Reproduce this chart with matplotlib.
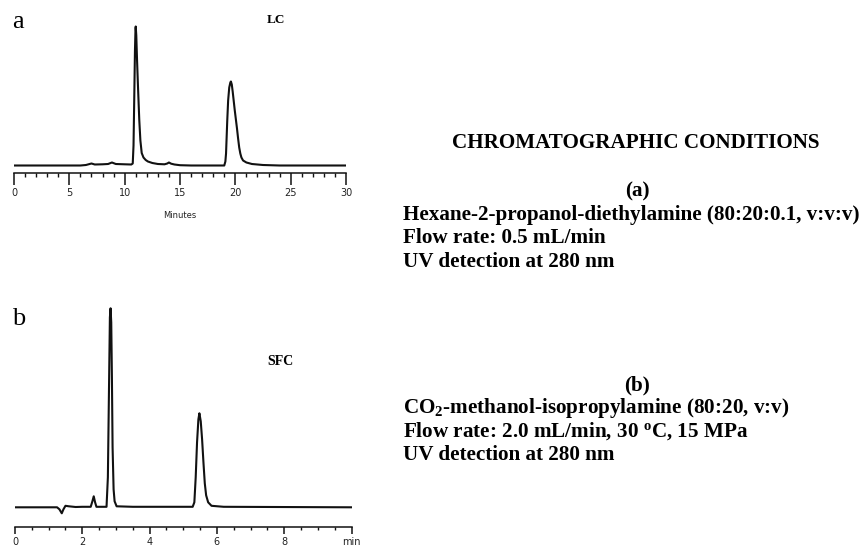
import matplotlib
matplotlib.use("Agg")
import matplotlib.pyplot as plt
from matplotlib.ticker import MultipleLocator, FixedLocator, FixedFormatter

plt.rcParams['mathtext.fontset'] = 'custom'
plt.rcParams['mathtext.rm'] = 'Liberation Serif:bold'
plt.rcParams['mathtext.bf'] = 'Liberation Serif:bold'
plt.rcParams['mathtext.it'] = 'Liberation Serif:bold'

# ---- Data ----
# LC chromatogram: time (min), detector signal (arbitrary units)
lc_time = [0, 6.0, 6.5, 7.0, 7.3, 8.0, 8.5, 8.85, 9.2, 10.0, 10.6, 10.73, 10.8, 10.87, 10.93,
           10.98, 11.0, 11.05, 11.12, 11.2, 11.32, 11.42, 11.54, 11.7, 11.9, 12.1, 12.5, 13.0,
           13.6, 13.85, 14.0, 14.2, 14.5, 15.0, 16.0, 19.0, 19.1, 19.16, 19.27, 19.35, 19.45,
           19.55, 19.6, 19.68, 19.76, 19.85, 19.95, 20.05, 20.15, 20.25, 20.35, 20.45, 20.55,
           20.7, 21.0, 21.5, 22.5, 24.0, 30.0]
lc_signal = [0, 0, 0.5, 2, 1, 1.2, 1.5, 3, 1.5, 1.2, 1.0, 2, 20, 70, 115,
             137, 139, 130, 105, 80, 45.5, 25, 12.5, 8, 5.5, 4, 2.5, 1.5,
             1.2, 2, 3, 1.8, 1, 0.3, 0, 0, 4, 12, 45, 65, 78,
             83, 84, 81, 74, 65, 55, 46, 37, 27, 18, 12, 8,
             5, 3, 1.5, 0.5, 0, 0]

# SFC chromatogram: time (min), detector signal (arbitrary units)
sfc_time = [0, 1.25, 1.32, 1.39, 1.44, 1.5, 1.6, 1.8, 2.0, 2.25, 2.3, 2.34, 2.38, 2.42,
            2.72, 2.76, 2.79, 2.82, 2.84, 2.86, 2.88, 2.90, 2.93, 2.96, 3.02, 3.5,
            5.28, 5.33, 5.37, 5.41, 5.45, 5.48, 5.52, 5.56, 5.60, 5.64, 5.68, 5.74, 5.84,
            6.2, 10.0]
sfc_signal = [0, 0, -2, -6, -2, 1.5, 1, 0.3, 0.5, 0.5, 6, 11, 5, 0.5,
              0.5, 30, 110, 190, 199, 185, 130, 60, 18, 6, 1, 0.5,
              0.5, 5, 30, 65, 88, 94, 86, 68, 45, 24, 12, 5, 1.5,
              0.5, 0]

lc_major_ticks = [0, 5, 10, 15, 20, 25, 30]
lc_tick_labels = ["0", "5", "10", "15", "20", "25", "30"]
sfc_major_ticks = [0, 2, 4, 6, 8, 10]
sfc_tick_labels = ["0", "2", "4", "6", "8", "min"]

cond_a = ["Hexane-2-propanol-diethylamine (80:20:0.1, v:v:v)",
          "Flow rate: 0.5 mL/min",
          "UV detection at 280 nm"]
cond_b = ["CO$_2$-methanol-isopropylamine (80:20, v:v)",
          "Flow rate: 2.0 mL/min, 30 $^{\\mathrm{o}}$C, 15 MPa",
          "UV detection at 280 nm"]

# ---- Figure ----
W, H = 864, 548
fig = plt.figure(figsize=(W / 100, H / 100), dpi=100)
fig.patch.set_facecolor('white')


def px_axes(left, top, right, bottom):
    return fig.add_axes([left / W, 1 - bottom / H, (right - left) / W, (bottom - top) / H])


def style_axis(ax, major_len, minor_len):
    for s in ['top', 'left', 'right']:
        ax.spines[s].set_visible(False)
    ax.spines['bottom'].set_linewidth(1.1)
    ax.spines['bottom'].set_color('#111111')
    ax.set_yticks([])
    ax.tick_params(axis='x', which='major', direction='out', length=major_len, width=1.1,
                   color='#111111', labelsize=7, labelcolor='#222222', pad=2.5)
    ax.tick_params(axis='x', which='minor', direction='out', length=minor_len, width=1.0,
                   color='#111111')
    ax.set_facecolor('none')


serif = ['Liberation Serif', 'DejaVu Serif']

# Top: LC
ax1 = px_axes(14, 20, 346, 173)
ax1.plot(lc_time, lc_signal, color='#111111', lw=1.5, solid_joinstyle='round')
ax1.set_xlim(0, 30)
ax1.set_ylim(-7.5, 145.5)
ax1.xaxis.set_major_locator(FixedLocator(lc_major_ticks))
ax1.xaxis.set_major_formatter(FixedFormatter(lc_tick_labels))
ax1.xaxis.set_minor_locator(MultipleLocator(1))
style_axis(ax1, 8.6, 2.9)
ax1.set_xlabel("Minutes", fontsize=6, color='#222222', labelpad=9)

# Bottom: SFC
ax2 = px_axes(15, 300, 351.5, 527)
ax2.plot(sfc_time, sfc_signal, color='#111111', lw=1.5, solid_joinstyle='round')
ax2.set_xlim(0, 10)
ax2.set_ylim(-19.7, 207.3)
ax2.xaxis.set_major_locator(FixedLocator(sfc_major_ticks))
ax2.xaxis.set_major_formatter(FixedFormatter(sfc_tick_labels))
ax2.xaxis.set_minor_locator(MultipleLocator(0.5))
style_axis(ax2, 5.0, 2.2)


def ftext(x, y, s, **kw):
    fig.text(x / W, 1 - y / H, s, **kw)


ftext(12, 28, "a", fontsize=19, family=serif, va='baseline', ha='left')
ftext(12, 325, "b", fontsize=19, family=serif, va='baseline', ha='left')
ftext(276, 23, "LC", fontsize=9.5, family=serif, weight='bold', va='baseline', ha='center')
ftext(280, 365, "SFC", fontsize=10, family=serif, weight='bold', va='baseline', ha='center')

FS = 15.2
ftext(636, 148.3, "CHROMATOGRAPHIC CONDITIONS", fontsize=FS, family=serif, weight='bold',
      va='baseline', ha='center')
ftext(637, 196, "(a)", fontsize=FS, family=serif, weight='bold', va='baseline', ha='center')
for i, line in enumerate(cond_a):
    ftext(403, 220 + 23.3 * i, line, fontsize=FS, family=serif, weight='bold',
          va='baseline', ha='left')
ftext(637, 390, "(b)", fontsize=FS, family=serif, weight='bold', va='baseline', ha='center')
for i, line in enumerate(cond_b):
    ftext(403, 413.3 + 23.3 * i, line, fontsize=FS, family=serif, weight='bold',
          va='baseline', ha='left')

fig.savefig("out.png", dpi=100, facecolor='white')
